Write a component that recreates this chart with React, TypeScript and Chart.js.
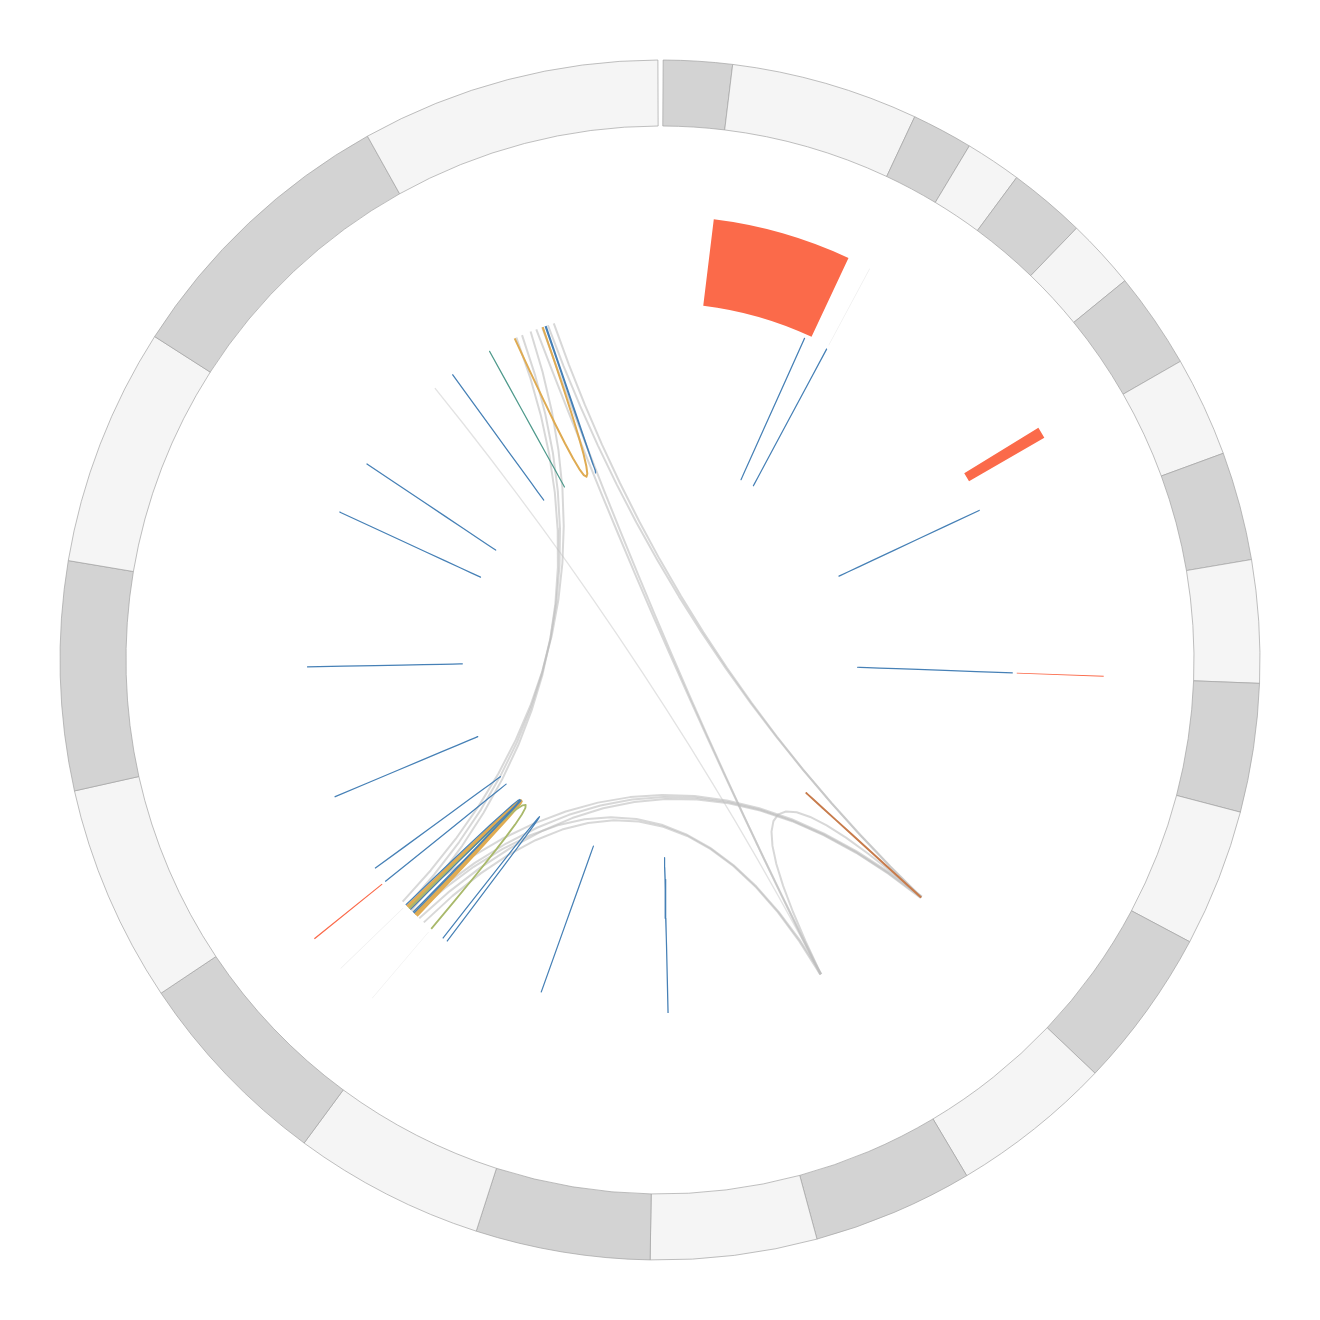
import React, { useEffect, useRef } from 'react';
import { Chart, registerables } from 'chart.js';

Chart.register(...registerables);

// ---------- data ----------
const CHROMS = ['chr1', 'chr2', 'chr3', 'chr4', 'chr5', 'chr6', 'chr7', 'chr8', 'chr9', 'chr10', 'chr11', 'chr12',
  'chr13', 'chr14', 'chr15', 'chr16', 'chr17', 'chr18', 'chr19', 'chr20', 'chr21', 'chr22', 'chrX', 'chrY'];
const CHROM_MB = [248.96, 242.19, 198.3, 190.2, 181.5, 170.8, 159.3, 145.1, 138.4, 133.8, 135.1, 133.3,
  114.4, 107.0, 102.0, 90.3, 83.3, 80.4, 58.6, 64.4, 46.7, 50.8, 156.0, 57.2];

// highlight track regions [chrom, startMb, endMb]
const RED_REGIONS: [string, number, number][] = [
  ['chrX', 0, 156.0],
  ['chr18', 1.7, 14.6],
  ['chr15', 0.6, 1.7],
  ['chr6', 43.5, 45.0],
];
const FAINT_REGIONS: [string, number, number][] = [
  ['chr22', 24.0, 24.9],
  ['chr6', 87.8, 88.6],
  ['chr6', 135.9, 136.7],
];

// links [chromA, posA, chromB, posB]
type Link = [string, number, string, number];
const GREY_LINKS: Link[] = [
  ['chr1', 204.5, 'chr6', 98.5],
  ['chr1', 195.9, 'chr6', 89.9],
  ['chr1', 183.0, 'chr6', 81.3],
  ['chr1', 174.5, 'chr10', 102.6],
  ['chr1', 165.9, 'chr10', 101.7],
  ['chr1', 157.3, 'chr12', 11.4],
  ['chr1', 148.7, 'chr12', 10.6],
  ['chr6', 88.2, 'chr12', 12.3],
  ['chr6', 101.1, 'chr12', 10.6],
  ['chr6', 114.0, 'chr12', 9.7],
  ['chr6', 105.4, 'chr10', 103.4],
  ['chr6', 122.6, 'chr10', 101.7],
  ['chr12', 11.4, 'chr10', 102.6],
];
const FAINT_LINKS: Link[] = [
  ['chr2', 89.6, 'chr10', 102.6],
];
const BLUE_LINKS: Link[] = [
  ['chrX', 7.9, 'chrX', 8.0],
  ['chr22', 24.4, 'chr22', 24.5],
  ['chr17', 42.5, 'chr17', 42.6],
  ['chr15', 1.1, 'chr15', 1.2],
  ['chr9', 19.3, 'chr9', 19.4],
  ['chr7', 143.4, 'chr7', 143.5],
  ['chr6', 157.1, 'chr6', 164.4],
  ['chr6', 20.9, 'chr6', 21.0],
  ['chr6', 44.2, 'chr6', 44.3],
  ['chr5', 87.6, 'chr5', 87.7],
  ['chr4', 91.5, 'chr4', 91.6],
  ['chr3', 67.3, 'chr3', 67.4],
  ['chr2', 232.2, 'chr2', 232.3],
  ['chr2', 58.7, 'chr2', 58.8],
  ['chr1', 160.0, 'chr1', 161.4],
  ['chr6', 87.6, 'chr6', 103.7],
  ['chr6', 96.8, 'chr6', 102.0],
];
const GOLD_LINKS: Link[] = [
  ['chr1', 207.1, 'chr1', 165.0],
  ['chr6', 90.0, 'chr6', 107.1],
  ['chr6', 92.5, 'chr6', 105.4],
  ['chr6', 95.1, 'chr6', 109.5],
];
const OLIVE_LINKS: Link[] = [['chr6', 94.2, 'chr6', 136.3]];
const TEAL_LINKS: Link[] = [['chr1', 246.5, 'chr1', 246.6]];
const BROWN_LINKS: Link[] = [['chr12', 10.4, 'chr12', 10.8]];

// ---------- layout / style ----------
const SIZE = 1320;
const HALF = SIZE / 2;
const OUTER_R = 600;
const RING_INNER_R = 534;
const TRACK_OUTER_R = 444;
const TRACK_INNER_R = 357;
const LINK_R = 353;
const START_DEG = 0.3;
const GAP_DEG = 0.5;
const BEND = 0.12;
const SEGMENTS = 16;

const RING_COLORS = ['#f5f5f5', '#d3d3d3'];
const RING_BORDER = '#a3a3a3';
const RED = '#fb6a4a';
const FAINT = '#efefef';

const TOTAL = CHROM_MB.reduce((a, b) => a + b, 0);
const DEG_PER_MB = (360 - GAP_DEG) / TOTAL;
const GAP_MB = GAP_DEG / DEG_PER_MB;
const CUM = CHROM_MB.map((_, i) => CHROM_MB.slice(0, i).reduce((a, b) => a + b, 0));
const cwOffset = (c: string, p: number) => TOTAL - (CUM[CHROMS.indexOf(c)] + p);
const angleDeg = (c: string, p: number) => START_DEG + cwOffset(c, p) * DEG_PER_MB;
const toXY = (deg: number, r: number) => {
  const a = (deg * Math.PI) / 180;
  return { x: r * Math.sin(a), y: r * Math.cos(a) };
};

function linkPoints(l: Link) {
  const A = toXY(angleDeg(l[0], l[1]), LINK_R);
  const B = toXY(angleDeg(l[2], l[3]), LINK_R);
  const C = { x: ((A.x + B.x) / 2) * BEND, y: ((A.y + B.y) / 2) * BEND };
  const pts: { x: number; y: number }[] = [];
  for (let i = 0; i <= SEGMENTS; i++) {
    const t = i / SEGMENTS;
    const u = 1 - t;
    pts.push({
      x: u * u * A.x + 2 * u * t * C.x + t * t * B.x,
      y: u * u * A.y + 2 * u * t * C.y + t * t * B.y,
    });
  }
  return pts;
}

function linkDatasets(links: Link[], color: string, width: number) {
  return links.map((l) => ({
    data: linkPoints(l),
    showLine: true,
    borderColor: color,
    backgroundColor: color,
    borderWidth: width,
    pointRadius: 0,
    pointHoverRadius: 0,
    fill: false,
    tension: 0,
    borderJoinStyle: 'round' as const,
    borderCapStyle: 'butt' as const,
  }));
}

function trackData() {
  const items = [
    ...RED_REGIONS.map((r) => ({ s: cwOffset(r[0], r[2]), e: cwOffset(r[0], r[1]), color: RED })),
    ...FAINT_REGIONS.map((r) => ({ s: cwOffset(r[0], r[2]), e: cwOffset(r[0], r[1]), color: FAINT })),
  ].sort((a, b) => a.s - b.s);
  const data: number[] = [];
  const colors: string[] = [];
  let cur = 0;
  for (const it of items) {
    if (it.s > cur) {
      data.push(it.s - cur);
      colors.push('rgba(0,0,0,0)');
    }
    data.push(it.e - it.s);
    colors.push(it.color);
    cur = it.e;
  }
  data.push(TOTAL + GAP_MB - cur);
  colors.push('rgba(0,0,0,0)');
  return { data, colors };
}

export default function App() {
  const ringRef = useRef<HTMLCanvasElement>(null);
  const linkRef = useRef<HTMLCanvasElement>(null);

  useEffect(() => {
    const cwChroms = [...CHROMS].reverse();
    const cwLengths = [...CHROM_MB].reverse();
    const cwColors = CHROMS.map((_, i) => RING_COLORS[i % 2]).reverse();
    const track = trackData();

    const ring = new Chart(ringRef.current!, {
      type: 'doughnut',
      data: {
        labels: [...cwChroms, ''],
        datasets: [
          {
            data: [...cwLengths, GAP_MB],
            backgroundColor: [...cwColors, 'rgba(0,0,0,0)'],
            borderColor: [...cwChroms.map(() => RING_BORDER), 'rgba(0,0,0,0)'],
            borderWidth: [...cwChroms.map(() => 0.7), 0],
            weight: OUTER_R - RING_INNER_R,
          } as any,
          {
            data: [1],
            backgroundColor: ['rgba(0,0,0,0)'],
            borderWidth: 0,
            weight: RING_INNER_R - TRACK_OUTER_R,
          } as any,
          {
            data: track.data,
            backgroundColor: track.colors,
            borderWidth: 0,
            weight: TRACK_OUTER_R - TRACK_INNER_R,
          } as any,
        ],
      },
      options: {
        responsive: false,
        animation: false,
        events: [],
        radius: OUTER_R,
        cutout: `${(TRACK_INNER_R / OUTER_R) * 100}%`,
        rotation: START_DEG,
        circumference: 360,
        layout: { padding: 0 },
        plugins: { legend: { display: false }, tooltip: { enabled: false } },
      } as any,
    });

    const datasets = [
      ...linkDatasets(BROWN_LINKS, '#c77b4b', 1.8),
      ...linkDatasets(TEAL_LINKS, '#4f9a8c', 1.2),
      ...linkDatasets(BLUE_LINKS, '#4680b6', 1.2),
      ...linkDatasets(OLIVE_LINKS, '#a9b96b', 1.8),
      ...linkDatasets(GOLD_LINKS, '#dfab52', 2),
      ...linkDatasets(GREY_LINKS, 'rgba(190,190,190,0.6)', 2),
      ...linkDatasets(FAINT_LINKS, 'rgba(215,215,215,0.7)', 1.3),
    ];

    const links = new Chart(linkRef.current!, {
      type: 'scatter',
      data: { datasets },
      options: {
        responsive: false,
        animation: false,
        events: [],
        layout: { padding: 0 },
        scales: {
          x: { type: 'linear', min: -HALF, max: HALF, display: false },
          y: { type: 'linear', min: -HALF, max: HALF, display: false },
        },
        plugins: { legend: { display: false }, tooltip: { enabled: false } },
      } as any,
    });

    return () => {
      ring.destroy();
      links.destroy();
    };
  }, []);

  const canvasStyle: React.CSSProperties = { position: 'absolute', left: 0, top: 0, display: 'block' };
  return (
    <div style={{ position: 'absolute', left: 0, top: 0, width: SIZE, height: SIZE, background: '#fff' }}>
      <canvas ref={ringRef} width={SIZE} height={SIZE} style={canvasStyle} />
      <canvas ref={linkRef} width={SIZE} height={SIZE} style={canvasStyle} />
    </div>
  );
}
